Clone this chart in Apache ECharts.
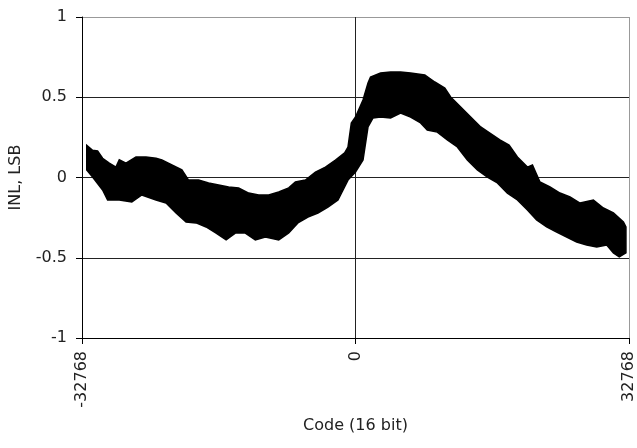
<!DOCTYPE html>
<html>
<head>
<meta charset="utf-8">
<script src="https://cdn.jsdelivr.net/npm/echarts@6/dist/echarts.min.js"></script>
<style>
html,body{margin:0;padding:0;background:#fff;}
#chart{width:637px;height:448px;}
</style>
</head>
<body>
<div id="chart"></div>
<script>
// Upper envelope of the INL band (code, LSB)
const upperCode = [-32200,-31500,-30900,-30300,-29500,-28700,-28300,-27500,-26300,-25100,-23900,-23200,-22000,-20800,-20000,-18800,-17600,-16400,-15200,-14000,-12800,-11600,-10400,-9200,-8000,-7200,-6000,-4800,-3600,-2400,-1300,-900,-500,0,900,1500,1800,3000,4200,5400,6600,8300,9500,10700,11400,12600,13800,15000,16100,17300,18400,19400,20600,21200,22100,23300,24500,25700,26900,28500,29700,30900,32100,32400];
const upperInl = [0.20,0.17,0.165,0.12,0.09,0.065,0.11,0.09,0.128,0.128,0.12,0.11,0.078,0.047,-0.016,-0.016,-0.034,-0.047,-0.059,-0.065,-0.097,-0.109,-0.109,-0.09,-0.065,-0.028,-0.016,0.034,0.065,0.109,0.153,0.19,0.34,0.377,0.483,0.589,0.626,0.651,0.657,0.657,0.651,0.639,0.595,0.558,0.502,0.439,0.377,0.315,0.277,0.234,0.202,0.128,0.065,0.078,-0.028,-0.059,-0.097,-0.121,-0.159,-0.14,-0.19,-0.221,-0.277,-0.308];
// Lower envelope of the INL band (code, LSB)
const lowerCode = [-32200,-31500,-30300,-29700,-28300,-26800,-25600,-23900,-22700,-21500,-20300,-19100,-17900,-16700,-15500,-14400,-13200,-12000,-10800,-9200,-8000,-6900,-5700,-4500,-3300,-2100,-900,0,900,1500,2100,3000,4200,5400,6600,7800,8600,9800,11000,12200,13400,14600,15800,17000,18200,19400,20600,21700,22900,24100,25300,26500,27700,28900,30100,30900,31600,32400];
const lowerInl = [0.047,0.003,-0.078,-0.14,-0.14,-0.153,-0.109,-0.14,-0.159,-0.221,-0.277,-0.283,-0.308,-0.346,-0.389,-0.346,-0.346,-0.389,-0.371,-0.389,-0.346,-0.283,-0.246,-0.221,-0.184,-0.14,-0.016,0.034,0.109,0.315,0.371,0.377,0.371,0.402,0.377,0.34,0.296,0.283,0.234,0.19,0.109,0.047,0.003,-0.034,-0.097,-0.14,-0.202,-0.265,-0.308,-0.34,-0.371,-0.402,-0.421,-0.433,-0.421,-0.47,-0.495,-0.47];
const xTicks = [-32768, 0, 32768];
const yTicks = [-1, -0.5, 0, 0.5, 1];

const FONT = '"DejaVu Sans", sans-serif';
const chart = echarts.init(document.getElementById('chart'), null, {renderer:'canvas'});
chart.setOption({
  animation: false,
  backgroundColor: '#fff',
  grid: {left: 82, right: 5, top: 17, bottom: 110, containLabel: false},
  xAxis: {
    type: 'value', min: xTicks[0], max: xTicks[2], interval: xTicks[1] - xTicks[0],
    name: 'Code (16 bit)', nameLocation: 'middle', nameGap: 80,
    nameTextStyle: {fontFamily: FONT, fontSize: 16, color: '#222'},
    axisLine: {show: true, onZero: false, lineStyle: {color: '#000', width: 1}},
    axisTick: {show: true, length: 6, lineStyle: {color: '#000'}},
    axisLabel: {rotate: 90, margin: 13, fontFamily: FONT, fontSize: 16, color: '#222',
      formatter: function (v) { return String(v); }},
    splitLine: {show: true, lineStyle: {color: ['#000', '#222', '#999'], width: 1}}
  },
  yAxis: {
    type: 'value', min: yTicks[0], max: yTicks[4], interval: yTicks[1] - yTicks[0],
    name: 'INL, LSB', nameLocation: 'middle', nameGap: 58,
    nameTextStyle: {fontFamily: FONT, fontSize: 16, color: '#222'},
    axisLine: {show: true, onZero: false, lineStyle: {color: '#000', width: 1}},
    axisTick: {show: true, length: 6, lineStyle: {color: '#000'}},
    axisLabel: {margin: 15, fontFamily: FONT, fontSize: 16, color: '#222',
      formatter: function (v) { return String(v); }},
    splitLine: {show: true, lineStyle: {color: ['#000', '#222', '#222', '#222', '#999'], width: 1}}
  },
  series: [{
    type: 'custom',
    clip: true,
    data: [[0, 0]],
    renderItem: function (params, api) {
      const pts = [];
      for (let i = 0; i < upperCode.length; i++) pts.push(api.coord([upperCode[i], upperInl[i]]));
      for (let i = lowerCode.length - 1; i >= 0; i--) pts.push(api.coord([lowerCode[i], lowerInl[i]]));
      return {type: 'polygon', shape: {points: pts}, style: {fill: '#000', stroke: '#000', lineWidth: 1.5}};
    },
    z: 5
  }]
});
</script>
</body>
</html>
